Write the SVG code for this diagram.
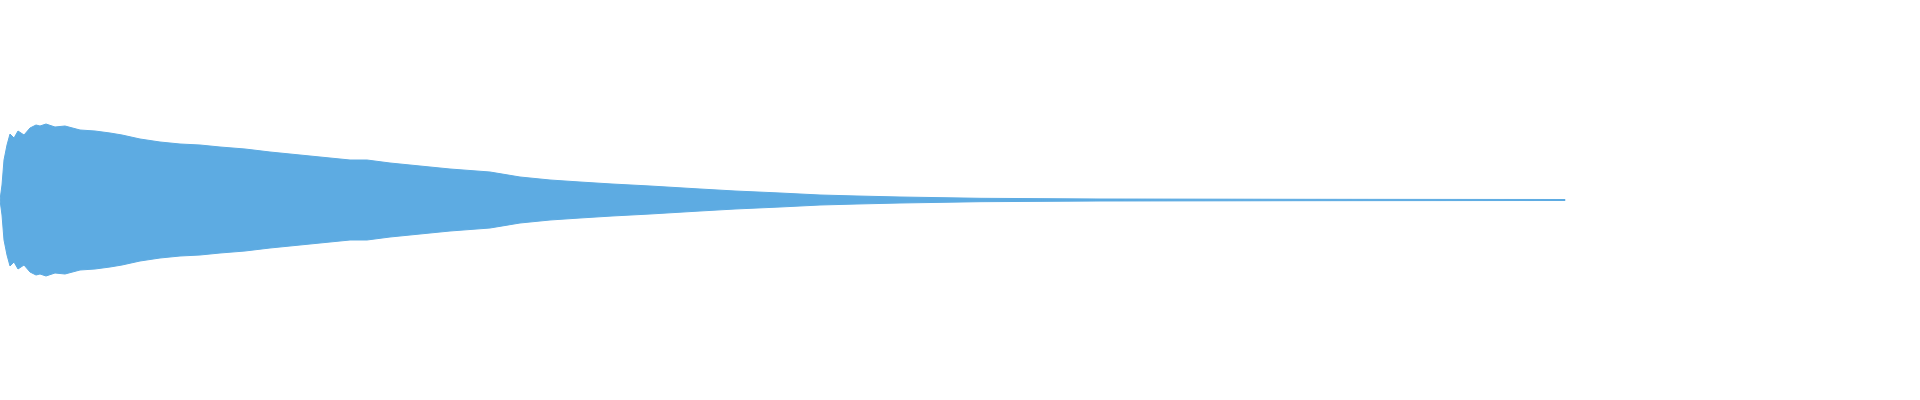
<svg xmlns="http://www.w3.org/2000/svg" width="1920" height="400" viewBox="0 0 1920 400">
<style>.w{fill:#5dabe2;stroke:#5dabe2;stroke-width:1}</style>
<rect width="1920" height="400" fill="#fff"/>
<g id="waveform">
<path class="w" d="M0,200 L2,185 L4,160 L7,145 L10,134 L14,138 L18,131 L24,135 L30,128 L36,125 L40,126 L46,124 L55,127 L65,126 L80,130 L95,131 L110,133 L122,135 L140,139 L160,142 L180,144 L200,145 L220,147 L245,149 L270,152 L290,154 L310,156 L330,158 L350,160 L367,160 L390,163 L420,166 L450,169 L490,172 L520,177 L550,180 L580,182 L612,184 L650,186 L700,189 L735,191 L780,193 L820,195 L857,196 L900,197 L980,198.3 L1100,199 L1300,199.3 L1565,199.5 L1565,200.5 L1300,200.7 L1100,201 L980,201.7 L900,203 L857,204 L820,205 L780,207 L735,209 L700,211 L650,214 L612,216 L580,218 L550,220 L520,223 L490,228 L450,231 L420,234 L390,237 L367,240 L350,240 L330,242 L310,244 L290,246 L270,248 L245,251 L220,253 L200,255 L180,256 L160,258 L140,261 L122,265 L110,267 L95,269 L80,270 L65,274 L55,273 L46,276 L40,274 L36,275 L30,272 L24,265 L18,269 L14,262 L10,266 L7,255 L4,240 L2,215 Z"/>
</g>
</svg>
